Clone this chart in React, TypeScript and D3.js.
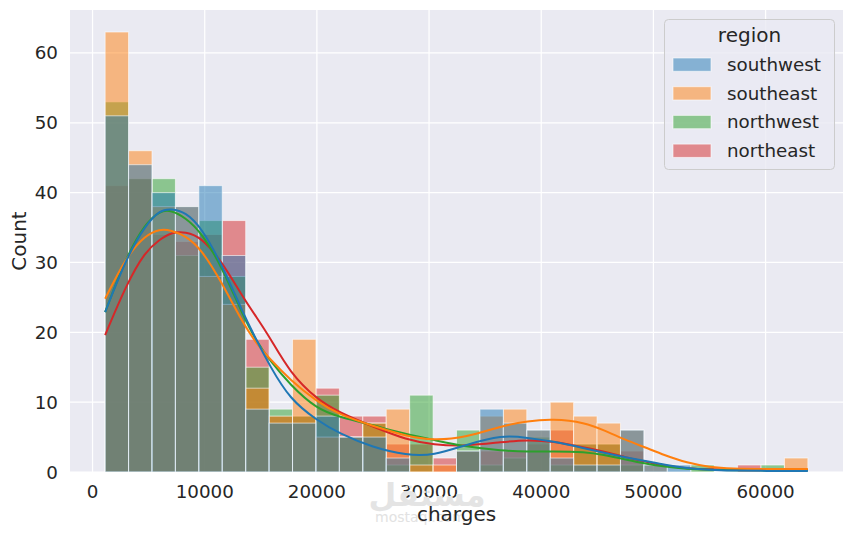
import React, { useEffect } from "react";
import * as d3 from "d3";

// ---- data ----
const regions = ["southwest", "southeast", "northwest", "northeast"];
const colors = ["#1f77b4", "#ff7f0e", "#2ca02c", "#d62728"];
const chargeMin = 1121.8739;
const chargeMax = 63770.428;
const binCount = 30;

const countsSouthwest = [51, 44, 40, 38, 41, 31, 9, 7, 7, 8, 5, 5, 2, 0, 0, 3, 9, 7, 6, 2, 1, 1, 6, 1, 1, 0, 0, 0, 0, 0];
const countsSoutheast = [63, 46, 38, 38, 28, 24, 12, 8, 19, 5, 5, 7, 9, 1, 1, 3, 8, 9, 6, 10, 8, 7, 6, 1, 0, 0, 0, 0, 0, 2];
const countsNorthwest = [53, 42, 42, 31, 36, 28, 15, 9, 8, 11, 5, 7, 1, 11, 0, 6, 1, 2, 5, 1, 4, 4, 1, 0, 0, 1, 0, 0, 1, 0];
const countsNortheast = [41, 42, 34, 33, 34, 36, 19, 8, 8, 12, 8, 8, 4, 4, 2, 3, 3, 3, 4, 6, 4, 4, 3, 0, 0, 0, 0, 1, 0, 0];

const kdeX = [1122, 3000, 4700, 6000, 7000, 8300, 9700, 11500, 13300, 14600, 15800, 17600, 20000, 22000, 25000, 28000, 30400, 33300, 36500, 38800, 41000, 43900, 45700, 47500, 49300, 51000, 53000, 55000, 57000, 60000, 63770];
const kdeSouthwest = [22.9, 30.6, 35.3, 37.5, 37.7, 37.2, 35, 29.8, 23.2, 18.9, 15.2, 10.4, 7.4, 5.5, 3.5, 2.4, 2.35, 3.9, 5.3, 4.9, 4.4, 3.4, 2.7, 2.1, 1.6, 1.0, 0.55, 0.3, 0.2, 0.15, 0.14];
const kdeSoutheast = [24.8, 30.8, 33.9, 34.8, 34.6, 33.8, 31.9, 27.2, 21.6, 18.4, 16.2, 13.2, 10.1, 8.2, 6.6, 5.1, 4.5, 4.95, 6.6, 7.3, 7.6, 7.1, 5.9, 4.6, 3.5, 2.4, 1.3, 0.7, 0.48, 0.4, 0.43];
const kdeNorthwest = [22.9, 30.8, 35.6, 37.4, 37.5, 36.4, 34.3, 29.5, 22.8, 18.7, 16, 12.5, 9.0, 7.9, 6.7, 5.4, 4.6, 3.6, 3.05, 2.9, 2.95, 2.9, 2.4, 1.8, 1.2, 0.76, 0.43, 0.3, 0.25, 0.24, 0.24];
const kdeNortheast = [19.6, 26.8, 31.6, 33.3, 34.3, 34.4, 33.6, 30.2, 25.3, 22.2, 19.3, 14.2, 10.4, 8.5, 6.5, 4.6, 3.9, 3.7, 4.3, 4.6, 4.4, 3.5, 2.9, 2.1, 1.5, 0.9, 0.5, 0.38, 0.35, 0.3, 0.3];

const xTicks = [0, 10000, 20000, 30000, 40000, 50000, 60000];
const yTicks = [0, 10, 20, 30, 40, 50, 60];

const countsByRegion = [countsSouthwest, countsSoutheast, countsNorthwest, countsNortheast];
const kdeByRegion = [kdeSouthwest, kdeSoutheast, kdeNorthwest, kdeNortheast];

const W = 854;
const H = 535;
const L = 70, R = 843, T = 10, B = 472;
const FONT = "DejaVu Sans, sans-serif";
const TXT = "#262626";

export default function App() {
  useEffect(() => {
    document.body.style.margin = "0";
  }, []);

  const pad = 0.05 * (chargeMax - chargeMin);
  const x = d3.scaleLinear().domain([chargeMin - pad, chargeMax + pad]).range([L, R]);
  const maxCount = d3.max(countsByRegion.flat()) as number;
  const y = d3.scaleLinear().domain([0, maxCount * 1.05]).range([B, T]);
  const binW = (chargeMax - chargeMin) / binCount;
  const edges = d3.range(binCount + 1).map((i) => chargeMin + i * binW);

  const line = d3
    .line<number>()
    .x((_, i) => x(kdeX[i]))
    .y((v) => y(v))
    .curve(d3.curveBasis);

  // draw order: last hue first (seaborn reverse)
  const order = [3, 2, 1, 0];

  return (
    <svg width={W} height={H} style={{ display: "block", position: "absolute", left: 0, top: 0 }} fontFamily={FONT}>
      <rect x={0} y={0} width={W} height={H} fill="#ffffff" />
      <rect x={L} y={T} width={R - L} height={B - T} fill="#EAEAF2" />
      {xTicks.map((t) => (
        <line key={"gx" + t} x1={x(t)} x2={x(t)} y1={T} y2={B} stroke="#ffffff" strokeWidth={1.25} />
      ))}
      {yTicks.map((t) => (
        <line key={"gy" + t} x1={L} x2={R} y1={y(t)} y2={y(t)} stroke="#ffffff" strokeWidth={1.25} />
      ))}

      {order.map((ri) => (
        <g key={"bars" + ri}>
          {countsByRegion[ri].map((c, i) =>
            c > 0 ? (
              <rect
                key={i}
                x={x(edges[i])}
                width={x(edges[i + 1]) - x(edges[i])}
                y={y(c)}
                height={y(0) - y(c)}
                fill={colors[ri]}
                fillOpacity={0.5}
                stroke="#ffffff"
                strokeOpacity={0.6}
                strokeWidth={1}
              />
            ) : null
          )}
        </g>
      ))}

      {order.map((ri) => (
        <path key={"kde" + ri} d={line(kdeByRegion[ri]) || ""} fill="none" stroke={colors[ri]} strokeWidth={2} />
      ))}

      {/* axes tick labels */}
      {xTicks.map((t) => (
        <text key={"xt" + t} x={x(t)} y={498} textAnchor="middle" fontSize={18.3} fill={TXT}>
          {t}
        </text>
      ))}
      {yTicks.map((t) => (
        <text key={"yt" + t} x={58} y={y(t) + 6.5} textAnchor="end" fontSize={18.3} fill={TXT}>
          {t}
        </text>
      ))}

      {/* watermark */}
      <text x={427} y={506} textAnchor="middle" fontSize={32} fontWeight="bold" fill="#e4e4e4">
        مستقل
      </text>
      <text x={375} y={522} fontSize={14} fill="#e2e2e2">
        mostaql.com
      </text>

      <text x={(L + R) / 2} y={521} textAnchor="middle" fontSize={20} fill={TXT}>
        charges
      </text>
      <text transform={`translate(26, ${(T + B) / 2}) rotate(-90)`} textAnchor="middle" fontSize={20} fill={TXT}>
        Count
      </text>

      {/* legend */}
      <g>
        <rect x={664.5} y={19.5} width={170} height={150} rx={4} fill="#EAEAF2" fillOpacity={0.8} stroke="#cccccc" strokeWidth={1} />
        <text x={749.5} y={42} textAnchor="middle" fontSize={20} fill={TXT}>
          region
        </text>
        {regions.map((r, i) => (
          <g key={r}>
            <rect
              x={673}
              y={58 + i * 28.7}
              width={38}
              height={13.3}
              fill={colors[i]}
              fillOpacity={0.5}
              stroke="#ffffff"
              strokeOpacity={0.6}
            />
            <text x={727} y={71 + i * 28.7} fontSize={18.3} fill={TXT}>
              {r}
            </text>
          </g>
        ))}
      </g>
    </svg>
  );
}
